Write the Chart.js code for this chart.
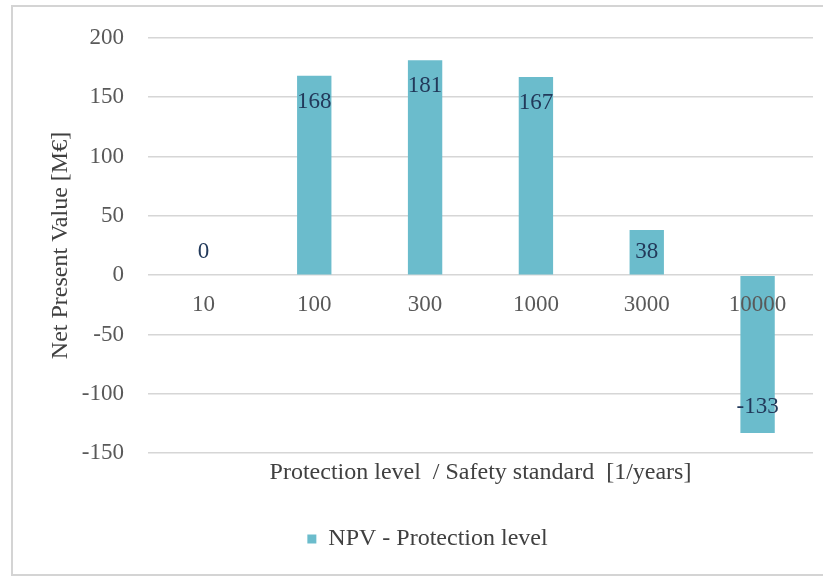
<!DOCTYPE html>
<html>
<head>
<meta charset="utf-8">
<script src="https://cdn.jsdelivr.net/npm/chart.js@4/dist/chart.umd.min.js"></script>
<style>
  html, body { margin: 0; padding: 0; background: #fff; }
  #box { width: 823px; height: 577px; }
</style>
</head>
<body>
<div id="box"><canvas id="npvChart"></canvas></div>
<script>
// data
const categories = ['10', '100', '300', '1000', '3000', '10000'];
const npvValues = [0, 168, 181, 167, 38, -133];
const yTicks = [-150, -100, -50, 0, 50, 100, 150, 200];

const SERIF = '"Liberation Serif", "Times New Roman", serif';
const barColor = '#6bbccc';

// grey frame round the whole chart
const framePlugin = {
    id: 'frame',
    beforeDraw(chart) {
        const ctx = chart.ctx;
        ctx.save();
        ctx.fillStyle = '#fff';
        ctx.fillRect(0, 0, chart.width, chart.height);
        ctx.strokeStyle = '#d4d4d4';
        ctx.lineWidth = 2;
        ctx.strokeRect(12, 6, chart.width + 10, chart.height - 8);
        ctx.restore();
    }
};

// value labels at the inside end of each bar
const valueLabels = {
    id: 'valueLabels',
    afterDatasetsDraw(chart) {
        const ctx = chart.ctx;
        const meta = chart.getDatasetMeta(0);
        const values = chart.data.datasets[0].data;
        ctx.save();
        ctx.font = '23px ' + SERIF;
        ctx.fillStyle = '#22395a';
        ctx.textAlign = 'center';
        ctx.textBaseline = 'middle';
        meta.data.forEach((bar, i) => {
            const v = values[i];
            const len = Math.abs(bar.base - bar.y);
            const off = Math.min(26, len / 2);
            let y;
            if (v === 0) y = bar.base - 23;
            else if (v > 0) y = bar.y + off;
            else y = bar.y - off;
            ctx.fillText(String(v), bar.x, y);
        });
        ctx.restore();
    }
};

const ctx = document.getElementById('npvChart').getContext('2d');
const npvChart = new Chart(ctx, {
    type: 'bar',
    data: {
        labels: categories,
        datasets: [{
            label: 'NPV - Protection level',
            data: npvValues,
            backgroundColor: barColor,
            borderWidth: 0,
            barPercentage: 0.31,
            categoryPercentage: 1
        }]
    },
    options: {
        responsive: true,
        maintainAspectRatio: false,
        animation: false,
        layout: {
            padding: { left: 42, right: 10, top: 35, bottom: 16 }
        },
        plugins: {
            tooltip: { enabled: false },
            legend: {
                position: 'bottom',
                labels: {
                    font: { family: SERIF, size: 24 },
                    color: '#404040',
                    boxWidth: 9,
                    boxHeight: 9,
                    padding: 8
                }
            }
        },
        scales: {
            x: {
                type: 'category',
                position: { y: 0 },
                grid: { display: false, drawTicks: false },
                border: { display: false },
                ticks: {
                    z: 1, // category labels sit over the bars
                    font: { family: SERIF, size: 23 },
                    color: '#595959',
                    padding: 16,
                    maxRotation: 0
                }
            },
            x2: {
                type: 'category',
                position: 'bottom',
                grid: { display: false, drawTicks: false },
                border: { display: false },
                ticks: { display: false },
                title: {
                    display: true,
                    text: 'Protection level  / Safety standard  [1/years]',
                    font: { family: SERIF, size: 24 },
                    color: '#404040',
                    padding: { top: 5, bottom: 32 }
                }
            },
            y: {
                min: -150,
                max: 200,
                afterFit(scale) { scale.width = 106; },
                afterBuildTicks(scale) { scale.ticks = yTicks.map(v => ({ value: v })); },
                grid: { color: '#d6d6d6', lineWidth: 1.5, drawTicks: false },
                border: { display: false },
                ticks: {
                    font: { family: SERIF, size: 23 },
                    color: '#595959',
                    padding: 24
                },
                title: {
                    display: true,
                    text: 'Net Present Value [M€]',
                    font: { family: SERIF, size: 24 },
                    color: '#404040'
                }
            }
        }
    },
    plugins: [framePlugin, valueLabels]
});
</script>
</body>
</html>
